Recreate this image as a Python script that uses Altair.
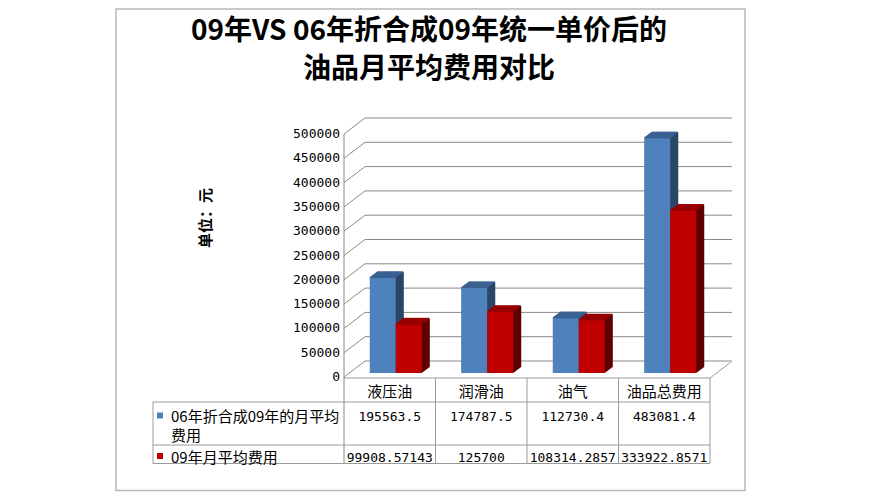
import altair as alt
import pandas as pd

# ---------------- data ----------------
categories = ["液压油", "润滑油", "油气", "油品总费用"]
series_names = ["06年折合成09年的月平均费用", "09年月平均费用"]
values_06 = [195563.5, 174787.5, 112730.4, 483081.4]
values_09 = [99908.57143, 125700, 108314.2857, 333922.8571]
y_ticks = [0, 50000, 100000, 150000, 200000, 250000, 300000, 350000, 400000, 450000, 500000]
title_lines = ["09年VS 06年折合成09年统一单价后的", "油品月平均费用对比"]
y_title = "单位：元"

rows = []
for si, (name, vals) in enumerate(zip(series_names, [values_06, values_09])):
    for c, v in zip(categories, vals):
        rows.append({"cat": c, "series": name, "sidx": si, "value": v})
df = pd.DataFrame(rows)
ticks_df = pd.DataFrame({"t": y_ticks})
series_df = pd.DataFrame({"series": series_names, "sidx": [0, 1]})
one = pd.DataFrame({"one": [1]})

# ---------------- styles ----------------
W, H = 366, 243
WALL_DX, WALL_DY = 21, -16
BAR_W = 26
BAR_SHIFT_X, BAR_SHIFT_Y = 6, -4
EXT_DX, EXT_DY = 8, -6
front_colors = ["#4F81BD", "#C00000"]
top_colors = ["#3C6193", "#990000"]
side_colors = ["#2B4567", "#5E0000"]
grid_color = "#8a8a8a"
table_color = "#9a9a9a"
CJK = "Noto Sans CJK SC"
MONO = "DejaVu Sans Mono"

x_scale = alt.Scale(type="band", domain=categories, paddingInner=0, paddingOuter=0)
y_scale = alt.Scale(domain=[0, 500000], nice=False, zero=True)


def xenc():
    return alt.X("cat:N", scale=x_scale, axis=None)


layers = []

# outer border
layers.append(
    alt.Chart(one).mark_rect(fillOpacity=0, stroke="#b8b8b8", strokeWidth=1.5).encode(
        x=alt.value(-228), x2=alt.value(401), y=alt.value(-125), y2=alt.value(356.5)
    )
)

# back wall gridlines
layers.append(
    alt.Chart(ticks_df).mark_rule(color=grid_color, strokeWidth=1, yOffset=WALL_DY).encode(
        x=alt.value(WALL_DX), x2=alt.value(W + WALL_DX + 1),
        y=alt.Y("t:Q", scale=y_scale, axis=None),
    )
)
# left wall diagonals
layers.append(
    alt.Chart(ticks_df).mark_rule(color=grid_color, strokeWidth=1, y2Offset=WALL_DY).encode(
        x=alt.value(0), x2=alt.value(WALL_DX),
        y=alt.Y("t:Q", scale=y_scale, axis=None), y2=alt.Y2("t:Q"),
    )
)
# value-axis labels
layers.append(
    alt.Chart(ticks_df).mark_text(font=MONO, fontSize=13, color="#000", align="right",
                                  baseline="middle", dx=-4).encode(
        x=alt.value(0), y=alt.Y("t:Q", scale=y_scale, axis=None),
        text=alt.Text("t:Q", format="d"),
    )
)
# value-axis title
layers.append(
    alt.Chart(one).mark_text(font=CJK, fontSize=15, fontWeight="bold", color="#000",
                             angle=270, align="center", baseline="middle").encode(
        x=alt.value(-138), y=alt.value(84), text=alt.value(y_title)
    )
)
# floor right diagonal
layers.append(
    alt.Chart(one).mark_rule(color=table_color, strokeWidth=1).encode(
        x=alt.value(W), x2=alt.value(W + WALL_DX), y=alt.value(H + 1), y2=alt.value(H + 1 + WALL_DY)
    )
)

# bars with 3D extrusion
steps = [0.5 * k for k in range(1, 17)]
for si in range(2):
    base_x = (-BAR_W / 2 if si == 0 else BAR_W / 2) + BAR_SHIFT_X
    base = alt.Chart(df).transform_filter(alt.datum.sidx == si)
    # extrusion (side colour)
    for j in steps:
        dy = EXT_DY / EXT_DX * j
        layers.append(
            base.mark_bar(width=BAR_W, color=side_colors[si], xOffset=base_x + j,
                          yOffset=BAR_SHIFT_Y + dy, y2Offset=BAR_SHIFT_Y + dy).encode(
                x=xenc(), y=alt.Y("value:Q", scale=y_scale, axis=None)
            )
        )
    # top face
    for j in [0.5 * k for k in range(0, 16)]:
        dy = EXT_DY / EXT_DX * j
        layers.append(
            base.mark_bar(width=BAR_W, color=top_colors[si], xOffset=base_x + j,
                          yOffset=BAR_SHIFT_Y + dy - 1, y2Offset=BAR_SHIFT_Y + dy).encode(
                x=xenc(), y=alt.Y("value:Q", scale=y_scale, axis=None), y2=alt.Y2("value:Q")
            )
        )
    # front face
    layers.append(
        base.mark_bar(width=BAR_W, color=front_colors[si], xOffset=base_x,
                      yOffset=BAR_SHIFT_Y, y2Offset=BAR_SHIFT_Y).encode(
            x=xenc(), y=alt.Y("value:Q", scale=y_scale, axis=None)
        )
    )

# ---------------- data table ----------------
T_TOP, R1_TOP, R2_TOP, T_BOT = H + 1, 268, 311, 329.5
T_LEFT = -191


def hrule(x1, x2, y, color=table_color):
    return alt.Chart(one).mark_rule(color=color, strokeWidth=1).encode(
        x=alt.value(x1), x2=alt.value(x2), y=alt.value(y)
    )


def vrule(x, y1, y2, color=table_color):
    return alt.Chart(one).mark_rule(color=color, strokeWidth=1).encode(
        x=alt.value(x), y=alt.value(y1), y2=alt.value(y2)
    )


layers += [
    vrule(0, 0, T_BOT, grid_color),
    hrule(0, W, T_TOP),
    hrule(T_LEFT, W, R1_TOP),
    hrule(T_LEFT, W, R2_TOP),
    hrule(T_LEFT, W, T_BOT),
    vrule(T_LEFT, R1_TOP, T_BOT),
]
# column separators through the category scale
layers.append(
    alt.Chart(df).transform_filter(alt.datum.sidx == 0).mark_rule(
        color=table_color, strokeWidth=1, xOffset=W / len(categories) / 2
    ).encode(x=xenc(), y=alt.value(T_TOP), y2=alt.value(T_BOT))
)
# category header
layers.append(
    alt.Chart(df).transform_filter(alt.datum.sidx == 0).mark_text(
        font=CJK, fontSize=15, color="#000", baseline="middle"
    ).encode(x=xenc(), y=alt.value(258), text="cat:N")
)
# values
row_y = [283, 324]
for si in range(2):
    layers.append(
        alt.Chart(df).transform_filter(alt.datum.sidx == si)
        .transform_calculate(label="toString(datum.value)")
        .mark_text(font=MONO, fontSize=13, color="#000", baseline="middle")
        .encode(x=xenc(), y=alt.value(row_y[si]), text="label:N")
    )
# legend keys and labels
leg_y = [282, 322.5]
for si in range(2):
    s = alt.Chart(series_df).transform_filter(alt.datum.sidx == si)
    layers.append(
        s.mark_square(size=36, opacity=1, filled=True).encode(
            x=alt.value(-184), y=alt.value(leg_y[si] - 0.5),
            color=alt.Color("series:N", scale=alt.Scale(domain=series_names, range=front_colors), legend=None),
        )
    )
    layers.append(
        s.transform_calculate(l1="substring(datum.series, 0, 13)")
        .mark_text(font=CJK, fontSize=15, color="#000", align="left", baseline="middle")
        .encode(x=alt.value(-173), y=alt.value(leg_y[si] + 1), text="l1:N")
    )
    layers.append(
        s.transform_calculate(l2="substring(datum.series, 13)")
        .mark_text(font=CJK, fontSize=15, color="#000", align="left", baseline="middle")
        .encode(x=alt.value(-173), y=alt.value(leg_y[si] + 20), text="l2:N")
    )

# title
for i, yy in enumerate([-102, -64]):
    layers.append(
        alt.Chart(one).mark_text(font=CJK, fontSize=28, fontWeight="bold", color="#000",
                                 align="center", baseline="middle").encode(
            x=alt.value(85), y=alt.value(yy), text=alt.value(title_lines[i])
        )
    )

chart = alt.layer(*layers).properties(
    width=W, height=H,
    autosize=alt.AutoSizeParams(type="none"),
    padding={"left": 336, "top": 126, "right": 162, "bottom": 115},
    background="white",
).configure_view(stroke=None)

chart.save("out.html", embed_options={"renderer": "svg", "actions": False})
